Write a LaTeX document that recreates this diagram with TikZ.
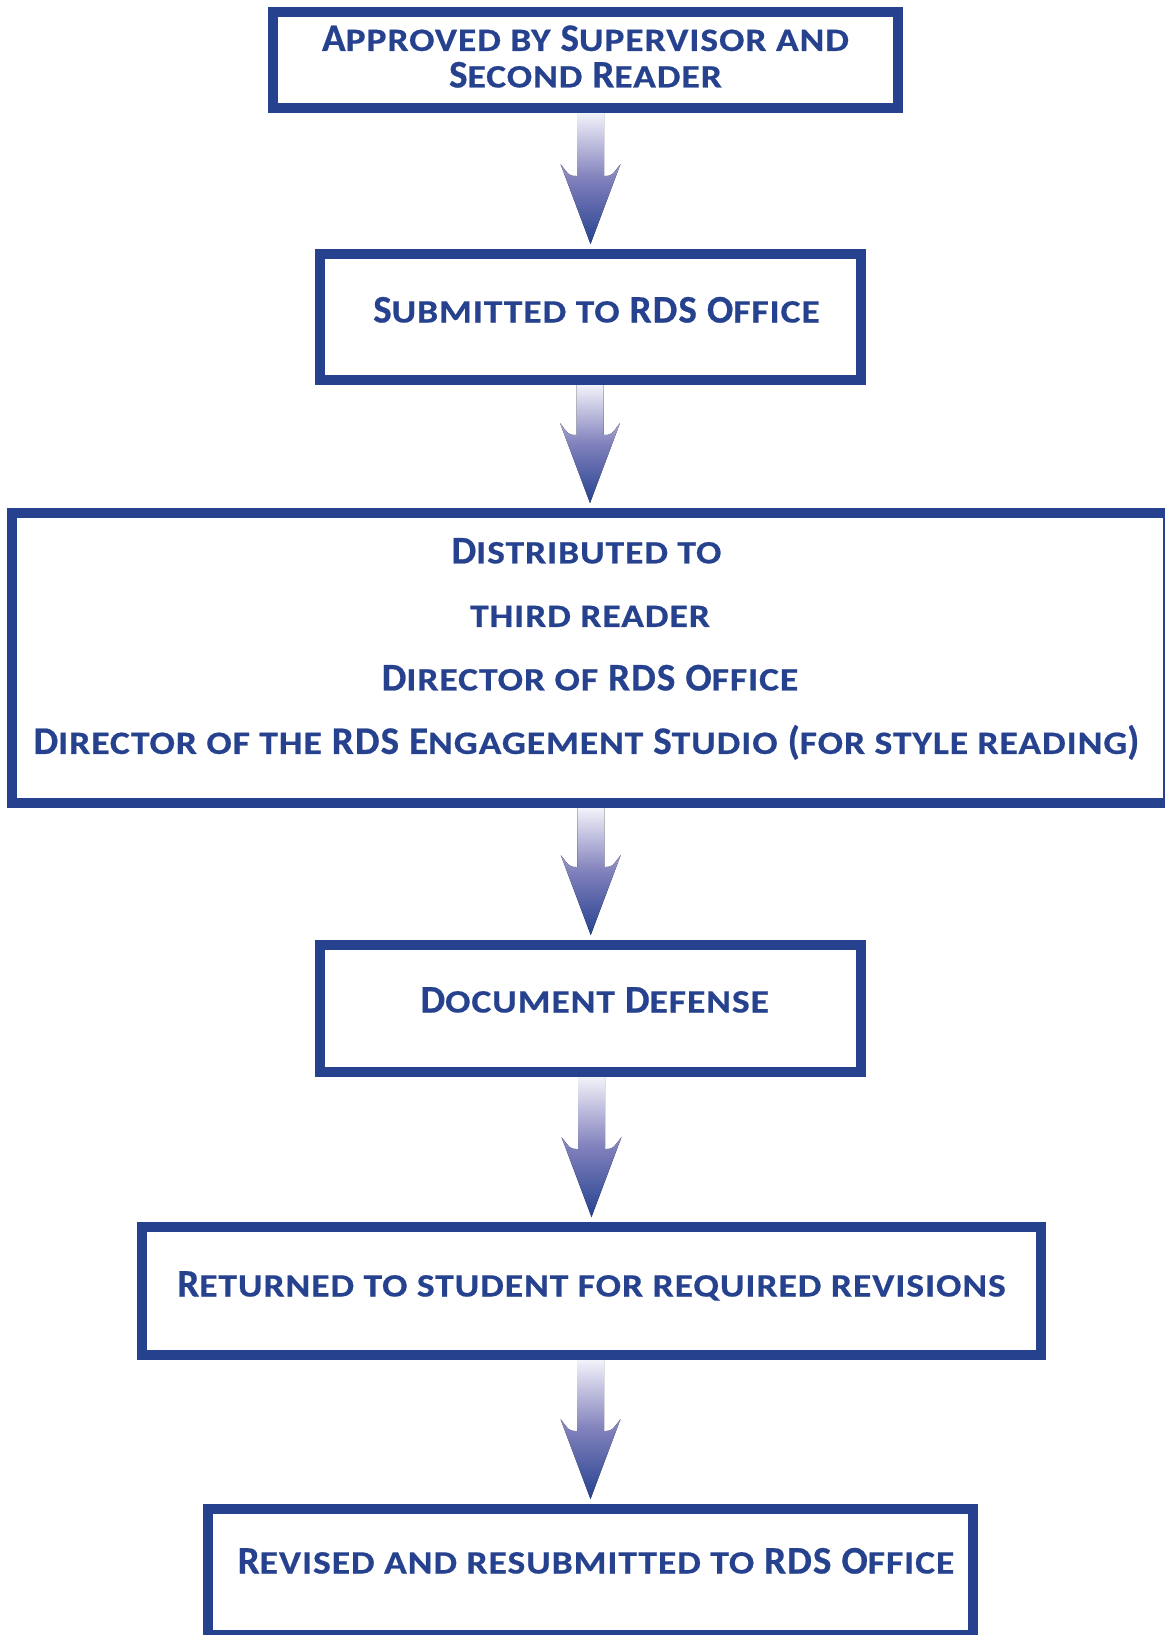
\documentclass[tikz,border=0pt]{standalone}
\usepackage{fontspec}
\setmainfont{Carlito}
\newfontfamily\capfont{Carlito}[LetterSpace=3, BoldFeatures={FakeBold=0.6}]
\newfontfamily\smallfont{Carlito}[LetterSpace=3, FakeStretch=1.15, BoldFeatures={FakeBold=0.6}]
\usetikzlibrary{calc, backgrounds}

\definecolor{navy}{RGB}{38,66,143}
\definecolor{arrowtop}{RGB}{242,242,250}
\definecolor{arrowmid}{RGB}{128,128,188}

% small capitals by hand
\newcommand\sm[1]{{\smallfont\bfseries\fontsize{16.3pt}{19pt}\selectfont #1}}

\tikzset{
  stepbox/.style={draw=navy, line width=5pt, text=navy, align=center,
    inner sep=0pt, font=\capfont\bfseries\fontsize{19.5pt}{31.75pt}\selectfont},
  arrowshade/.style={top color=arrowtop, bottom color=navy, middle color=arrowmid},
}

% shaded arrow from the bottom of #1 to the top of #2
\newcommand\flowarrow[2]{%
  \fill[arrowshade] let \p1=(#1.south), \p2=(#2.north) in
    (\x2-6.75pt,\y1) -- (\x2-6.75pt,\y2+36.5pt)
    .. controls (\x2-10.5pt,\y2+36.5pt) .. (\x2-15pt,\y2+42.5pt)
    -- (\x2,\y2+2.5pt) -- (\x2+15pt,\y2+42.5pt)
    .. controls (\x2+10.5pt,\y2+36.5pt) .. (\x2+6.75pt,\y2+36.5pt)
    -- (\x2+6.75pt,\y1) -- cycle;}

\begin{document}
\begin{tikzpicture}[x=0.5pt, y=-0.5pt]
  \useasboundingbox (0,0) rectangle (1165,1635);

  % Steps
  \node[stepbox, minimum width=312.5pt, minimum height=48pt, text depth=3.6pt,
        font=\capfont\bfseries\fontsize{19.5pt}{18.25pt}\selectfont]
    (approved) at (585.5,60) {A\sm{PPROVED BY} S\sm{UPERVISOR AND}\\S\sm{ECOND} R\sm{EADER}};
  \node[stepbox, minimum width=270.5pt, minimum height=63pt,
        text height=12.5pt, text depth=7pt]
    (submitted) at (590.5,317) {\hspace*{6pt}S\sm{UBMITTED TO} RDS O\sm{FFICE}};
  \node[stepbox, minimum width=578pt, minimum height=145pt, text depth=12pt]
    (distributed) at (590,658) {D\sm{ISTRIBUTED TO}\hspace*{3.5pt}\\
      \sm{THIRD READER}\hspace*{3.5pt}\\
      D\sm{IRECTOR OF} RDS O\sm{FFICE}\hspace*{3.5pt}\\
      D\sm{IRECTOR OF THE} RDS E\sm{NGAGEMENT} S\sm{TUDIO} (\sm{FOR STYLE READING})\hspace*{3.5pt}};
  \node[stepbox, minimum width=270.5pt, minimum height=63.5pt,
        text height=12.5pt, text depth=8.5pt]
    (defense) at (590.75,1008.5) {\hspace*{4pt}D\sm{OCUMENT} D\sm{EFENSE}};
  \node[stepbox, minimum width=449.5pt, minimum height=64pt,
        text height=12.5pt, text depth=7pt]
    (returned) at (591.5,1291) {R\sm{ETURNED TO STUDENT FOR REQUIRED REVISIONS}};
  \node[stepbox, minimum width=382.5pt, minimum height=63pt,
        text height=12.5pt, text depth=11pt]
    (revised) at (590.5,1572) {\hspace*{5.5pt}R\sm{EVISED AND RESUBMITTED TO} RDS O\sm{FFICE}};

  % Arrows behind the boxes
  \begin{pgfonlayer}{background}
    \flowarrow{approved}{submitted}
    \flowarrow{submitted}{distributed}
    \flowarrow{distributed}{defense}
    \flowarrow{defense}{returned}
    \flowarrow{returned}{revised}
  \end{pgfonlayer}
\end{tikzpicture}
\end{document}
